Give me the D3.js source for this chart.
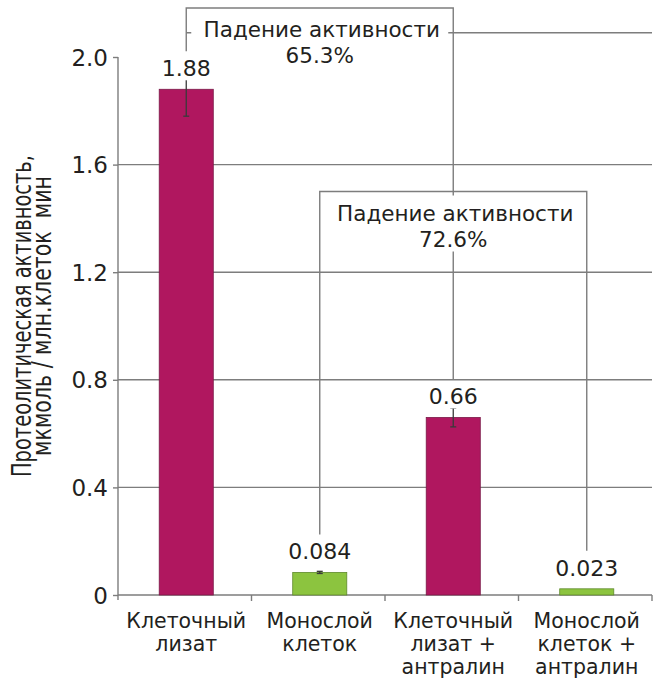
<!DOCTYPE html>
<html>
<head>
<meta charset="utf-8">
<script src="https://cdn.jsdelivr.net/npm/d3@7"></script>
<style>
  html, body { margin: 0; padding: 0; background: #fff; }
  svg { display: block; }
  text { font-family: "DejaVu Sans", sans-serif; fill: #231f20; }
</style>
</head>
<body>
<svg id="chart" width="655" height="680"></svg>
<script>
// Proteolytic activity per group
const categories = [
  ["Клеточный", "лизат"],
  ["Монослой", "клеток"],
  ["Клеточный", "лизат +", "антралин"],
  ["Монослой", "клеток +", "антралин"]
];
const values     = [1.88, 0.084, 0.66, 0.023];
const valueText  = ["1.88", "0.084", "0.66", "0.023"];
const errLow     = [1.78, 0.080, 0.625, 0.023];
const errHigh    = [1.92, 0.088, 0.695, 0.023];
const barKinds   = ["lysate", "monolayer", "lysate", "monolayer"];
const yTicks     = [0, 0.4, 0.8, 1.2, 1.6, 2.0];
const yTickText  = ["0", "0.4", "0.8", "1.2", "1.6", "2.0"];
const gridValues = [0.4, 0.8, 1.2, 1.6];
const yTitle     = ["Протеолитическая активность,", "мкмоль / млн.клеток  мин"];

// Comparison brackets: from bar index to bar index, top level in data units
const bracketFrom  = [0, 1];
const bracketTo    = [2, 3];
const bracketTop   = [2.182, 1.5];
const bracketTitle = ["Падение активности", "Падение активности"];
const bracketPct   = ["65.3%", "72.6%"];
const guideLevel   = 2.09;

const colors = { lysate: "#b0175f", monolayer: "#8cc43f" };
const strokeCol = { lysate: "#7a1a48", monolayer: "#5f8a2c" };
const lineCol = "#7d7d7d";

const svg = d3.select("#chart");
const plotLeft = 118, plotRight = 652, plotBottom = 595, plotTop = 57;

const y = d3.scaleLinear().domain([0, 2.0]).range([plotBottom, plotTop]);
const x = d3.scaleBand().domain(d3.range(categories.length)).range([plotLeft, plotRight]).padding(0);
const barW = x.bandwidth() * 0.405;
const cx = i => x(i) + x.bandwidth() / 2 + 1.5;

// Horizontal grid
svg.append("g").selectAll("line").data(gridValues).join("line")
  .attr("x1", plotLeft).attr("x2", plotRight)
  .attr("y1", d => y(d)).attr("y2", d => y(d))
  .attr("stroke", lineCol).attr("stroke-width", 1.4);

// Guide line behind the first annotation
svg.append("line")
  .attr("x1", cx(0)).attr("x2", plotRight)
  .attr("y1", y(guideLevel)).attr("y2", y(guideLevel))
  .attr("stroke", lineCol).attr("stroke-width", 1.4);

// Y axis
const yAxis = d3.axisLeft(y).tickValues(yTicks).tickSize(5)
  .tickFormat((d, i) => yTickText[i]);
const gy = svg.append("g").attr("transform", `translate(${plotLeft},0)`).call(yAxis);
gy.select(".domain").remove();
gy.selectAll(".tick line").attr("stroke", lineCol).attr("stroke-width", 1.4);
gy.selectAll(".tick text")
  .attr("x", -10).attr("dy", "0.35em")
  .style("font-size", "23px").style("font-family", "DejaVu Sans").attr("fill", "#231f20");
svg.append("line")
  .attr("x1", plotLeft).attr("x2", plotLeft).attr("y1", y(2.0)).attr("y2", plotBottom + 5)
  .attr("stroke", lineCol).attr("stroke-width", 1.4);

// X axis with boundary ticks
svg.append("line")
  .attr("x1", plotLeft).attr("x2", plotRight).attr("y1", plotBottom).attr("y2", plotBottom)
  .attr("stroke", lineCol).attr("stroke-width", 1.4);
svg.append("g").selectAll("line").data(d3.range(1, categories.length + 1)).join("line")
  .attr("x1", i => x(i - 1) + x.bandwidth()).attr("x2", i => x(i - 1) + x.bandwidth())
  .attr("y1", plotBottom).attr("y2", plotBottom + 6)
  .attr("stroke", lineCol).attr("stroke-width", 1.4);

// Category labels
const cat = svg.append("g").selectAll("text").data(categories).join("text")
  .attr("text-anchor", "middle").style("font-size", "20.5px");
cat.each(function (lines, i) {
  d3.select(this).selectAll("tspan").data(lines).join("tspan")
    .attr("x", cx(i)).attr("y", (d, k) => 628 + k * 23).text(d => d);
});

// Bracket lines
const gap = 38;
bracketFrom.forEach((a, k) => {
  const b = bracketTo[k];
  const ytop = y(bracketTop[k]);
  const path = d3.path();
  path.moveTo(cx(a), y(values[a]) - gap);
  path.lineTo(cx(a), ytop);
  path.lineTo(cx(b), ytop);
  path.lineTo(cx(b), y(values[b]) - gap);
  svg.append("path").attr("d", path.toString())
    .attr("fill", "none").attr("stroke", lineCol).attr("stroke-width", 1.4);
});

// Bars
svg.append("g").selectAll("rect").data(values).join("rect")
  .attr("x", (d, i) => cx(i) - barW / 2)
  .attr("width", barW)
  .attr("y", d => y(d))
  .attr("height", d => plotBottom - y(d))
  .attr("fill", (d, i) => colors[barKinds[i]])
  .attr("stroke", (d, i) => strokeCol[barKinds[i]])
  .attr("stroke-width", 0.8);

// Error bars
const eb = svg.append("g").attr("stroke", "#3a3a3a").attr("stroke-width", 1.3);
values.forEach((v, i) => {
  if (errHigh[i] - errLow[i] <= 0) return;
  eb.append("line").attr("x1", cx(i)).attr("x2", cx(i))
    .attr("y1", y(errHigh[i])).attr("y2", y(errLow[i]));
  [errLow[i], errHigh[i]].forEach(e => {
    eb.append("line").attr("x1", cx(i) - 3).attr("x2", cx(i) + 3)
      .attr("y1", y(e)).attr("y2", y(e));
  });
});

// Bracket captions
bracketFrom.forEach((a, k) => {
  const b = bracketTo[k];
  const mid = (cx(a) + cx(b)) / 2 + 2;
  const ytop = y(bracketTop[k]);
  svg.append("rect").attr("x", cx(a) + 5).attr("width", cx(b) - cx(a) - 10)
    .attr("y", ytop + 4).attr("height", 56).attr("fill", "#fff");
  svg.append("text").attr("x", mid).attr("y", ytop + 29)
    .attr("text-anchor", "middle").style("font-size", "21.5px").text(bracketTitle[k]);
  svg.append("text").attr("x", mid - 2).attr("y", ytop + 55)
    .attr("text-anchor", "middle").style("font-size", "21.5px").text(bracketPct[k]);
});

// Value labels with white backing
const vl = svg.append("g");
values.forEach((v, i) => {
  const by = y(v) - 13;
  vl.append("rect").attr("x", cx(i) - 28).attr("width", 56)
    .attr("y", by - 19).attr("height", 23).attr("fill", "#fff");
  vl.append("text").attr("x", cx(i)).attr("y", by)
    .attr("text-anchor", "middle").style("font-size", "22px").text(valueText[i]);
});

// Y axis title
const yTitleText = svg.append("text")
  .attr("transform", `translate(0,${316}) rotate(-90)`)
  .attr("text-anchor", "middle").style("font-size", "26px").style("white-space", "pre");
yTitleText.append("tspan").attr("x", 0).attr("y", 31).attr("textLength", 322)
  .attr("lengthAdjust", "spacingAndGlyphs").text(yTitle[0]);
yTitleText.append("tspan").attr("x", 0).attr("y", 51).attr("textLength", 280)
  .attr("lengthAdjust", "spacingAndGlyphs").text(yTitle[1]);
</script>
</body>
</html>
